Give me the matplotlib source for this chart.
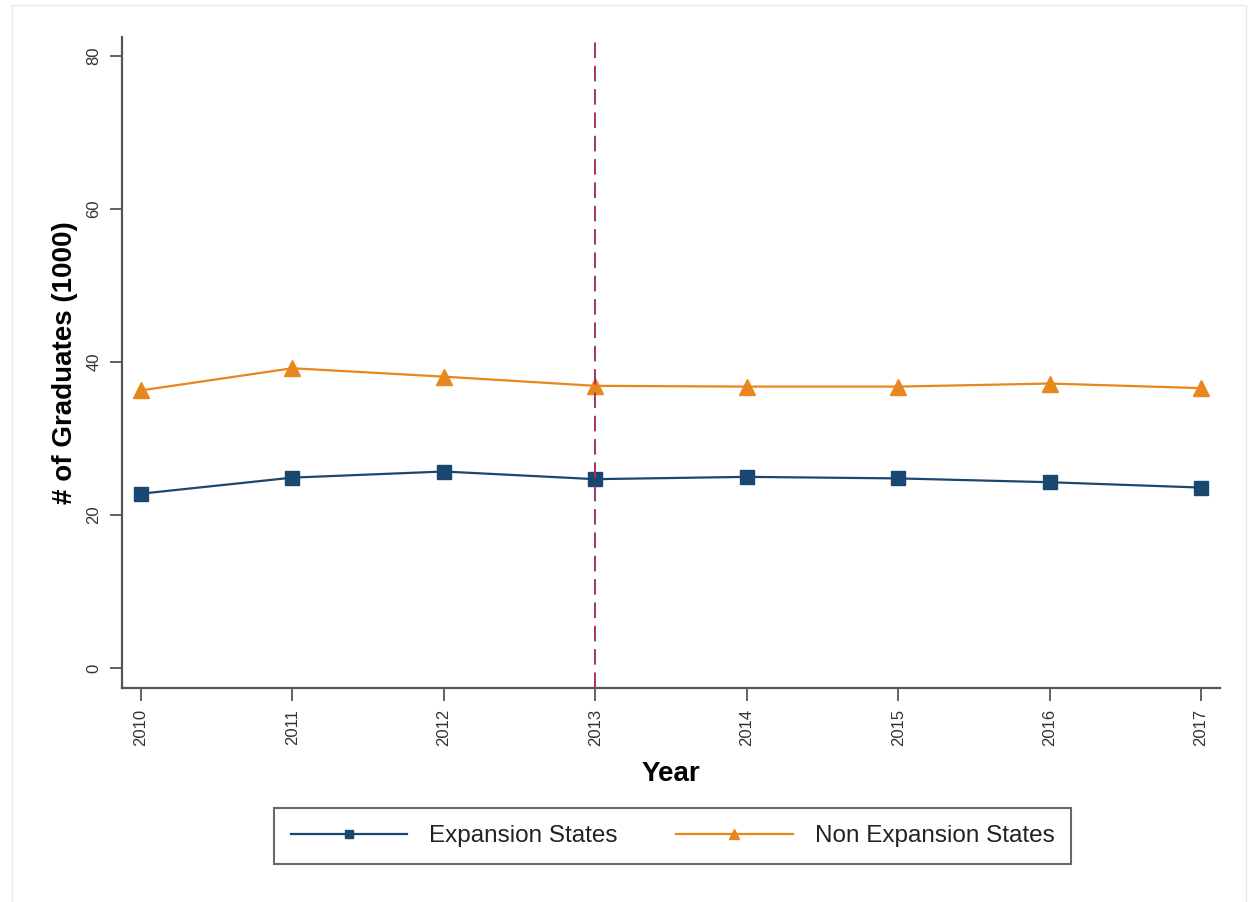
import matplotlib
matplotlib.use("Agg")
import matplotlib.pyplot as plt
from matplotlib.patches import Rectangle

# === DATA ===
years = [2010, 2011, 2012, 2013, 2014, 2015, 2016, 2017]
expansion = [22.8, 24.9, 25.7, 24.7, 25.0, 24.8, 24.3, 23.6]
non_expansion = [36.3, 39.2, 38.1, 36.9, 36.8, 36.8, 37.2, 36.6]
y_ticks = [0, 20, 40, 60, 80]
policy_year = 2013

# === STYLE ===
NAVY = "#1a476f"
ORANGE = "#e8871e"
CRANBERRY = "#a3326b"
AXIS_GRAY = "#555555"

plt.rcParams["font.family"] = ["Liberation Sans", "DejaVu Sans"]

fig = plt.figure(figsize=(12.48, 9.02), dpi=100)
fig.patch.set_facecolor("white")

# faint outer frame of the graph region
fig.patches.append(Rectangle((12 / 1248, -0.01), 1234 / 1248, 1 - 5 / 902 + 0.01,
                             transform=fig.transFigure, fill=False,
                             edgecolor="#e8e8e8", linewidth=1.0))

ax = fig.add_axes([122 / 1248, 214 / 902, 1098 / 1248, 651 / 902])

ax.plot(years, expansion, color=NAVY, linewidth=1.6, marker="s",
        markersize=10.5, label="Expansion States")
ax.plot(years, non_expansion, color=ORANGE, linewidth=1.6, marker="^",
        markersize=11.5, label="Non Expansion States")
ax.axvline(policy_year, color=CRANBERRY, linewidth=1.4, dashes=(8, 4),
           dash_capstyle="butt")

# === AXES ===
ax.set_xlim(2009.875, 2017.125)
ax.set_ylim(-2.6, 82.5)
ax.set_xticks(years)
ax.set_yticks(y_ticks)
ax.tick_params(axis="both", length=9, width=1.3, color=AXIS_GRAY,
               labelsize=12, labelcolor="#333333", pad=6)
plt.setp(ax.get_xticklabels(), rotation=90)
plt.setp(ax.get_yticklabels(), rotation=90, va="center")

for side in ["top", "right"]:
    ax.spines[side].set_visible(False)
for side in ["left", "bottom"]:
    ax.spines[side].set_color(AXIS_GRAY)
    ax.spines[side].set_linewidth(1.6)

ax.set_ylabel("# of Graduates (1000)", fontsize=20, fontweight="bold")
ax.yaxis.set_label_coords(-0.040, 0.5)
ax.set_xlabel("Year", fontsize=20, fontweight="bold")
ax.xaxis.set_label_coords(0.5, -0.112)

# === LEGEND ===
leg = fig.legend(loc="center", bbox_to_anchor=(672.5 / 1248, 1 - 836 / 902),
                 ncol=2, fontsize=17.5, handlelength=4.8, handletextpad=0.9,
                 columnspacing=2.4, borderpad=0.7, markerscale=0.6,
                 fancybox=False, frameon=True)
leg.get_frame().set_edgecolor("#444444")
leg.get_frame().set_linewidth(1.5)
for t in leg.get_texts():
    t.set_color("#222222")

plt.savefig("out.png", dpi=100)
